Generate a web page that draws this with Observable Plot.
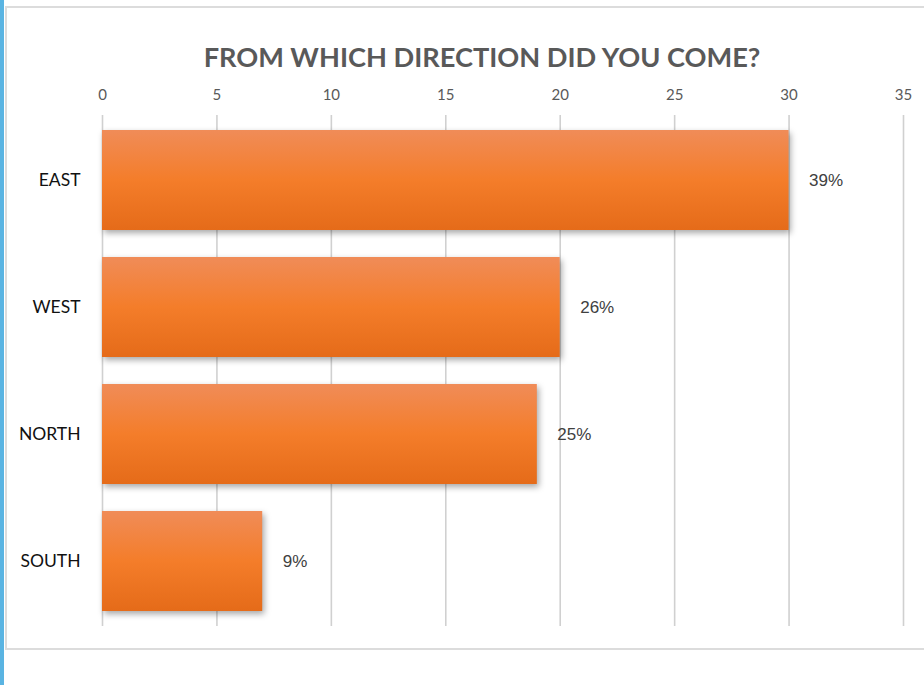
<!DOCTYPE html>
<html>
<head>
<meta charset="utf-8">
<script src="https://cdn.jsdelivr.net/npm/d3@7"></script>
<script src="https://cdn.jsdelivr.net/npm/@observablehq/plot@0.6"></script>
<style>
  html, body { margin: 0; padding: 0; background: #fff; }
  #wrap { position: relative; width: 924px; height: 685px; overflow: hidden; }
  #blue { position: absolute; left: 0; top: 0; width: 4px; height: 685px; background: #5ab4e2; }
  #frame { position: absolute; left: 5px; top: 6px; width: 940px; height: 644px; border: 2px solid #dcdcdc; box-sizing: border-box; }
  #title { position: absolute; left: 0; width: 964px; top: 40px; text-align: center;
           font-family: Lato, "Open Sans", sans-serif; font-weight: bold; font-size: 27.2px; color: #595959; }
  #chart { position: absolute; left: 0; top: 0; }
  .bars rect { filter: drop-shadow(2px 3px 3px rgba(0,0,0,0.35)); }
</style>
</head>
<body>
<div id="wrap">
  <div id="frame"></div>
  <div id="blue"></div>
  <div id="chart"></div>
  <div id="title">FROM WHICH DIRECTION DID YOU COME?</div>
</div>
<script>
const categories = ["EAST", "WEST", "NORTH", "SOUTH"];
const values = [30, 20, 19, 7];
const percentLabels = ["39%", "26%", "25%", "9%"];
const xTicks = [0, 5, 10, 15, 20, 25, 30, 35];

const data = categories.map((c, i) => ({category: c, value: values[i], label: percentLabels[i]}));

const plot = Plot.plot({
  width: 924,
  height: 685,
  marginTop: 115,
  marginBottom: 59,
  marginLeft: 102,
  marginRight: 21,
  style: {background: "transparent", overflow: "visible"},
  x: {domain: [0, 35], ticks: xTicks},
  y: {domain: categories, paddingInner: 0.21, paddingOuter: 0.105},
  marks: [
    Plot.gridX(xTicks, {stroke: "#d0d0d0", strokeOpacity: 1, strokeWidth: 1.6}),
    Plot.axisX({anchor: "top", ticks: xTicks, tickSize: 0, tickPadding: 16,
      fontSize: 15, fontFamily: "Lato, 'Open Sans', sans-serif", color: "#595959", label: null}),
    Plot.axisY({tickSize: 0, tickPadding: 22, fontSize: 17.5,
      fontFamily: "Lato, 'Open Sans', sans-serif", color: "#111", label: null}),
    Plot.barX(data, {x: "value", y: "category", fill: "url(#barGrad)", className: "bars"}),
    Plot.text(data, {x: "value", y: "category", text: "label", dx: 20, textAnchor: "start",
      fontSize: 17, fontFamily: "'Liberation Sans', Arial, sans-serif", fill: "#404040"})
  ]
});

const ns = "http://www.w3.org/2000/svg";
const defs = document.createElementNS(ns, "defs");
defs.innerHTML = `<linearGradient id="barGrad" x1="0" y1="0" x2="0" y2="1">
  <stop offset="0" stop-color="#f08c58"/>
  <stop offset="0.5" stop-color="#f47d2a"/>
  <stop offset="1" stop-color="#e56b19"/>
</linearGradient>`;
plot.insertBefore(defs, plot.firstChild);
document.getElementById("chart").appendChild(plot);
</script>
</body>
</html>
